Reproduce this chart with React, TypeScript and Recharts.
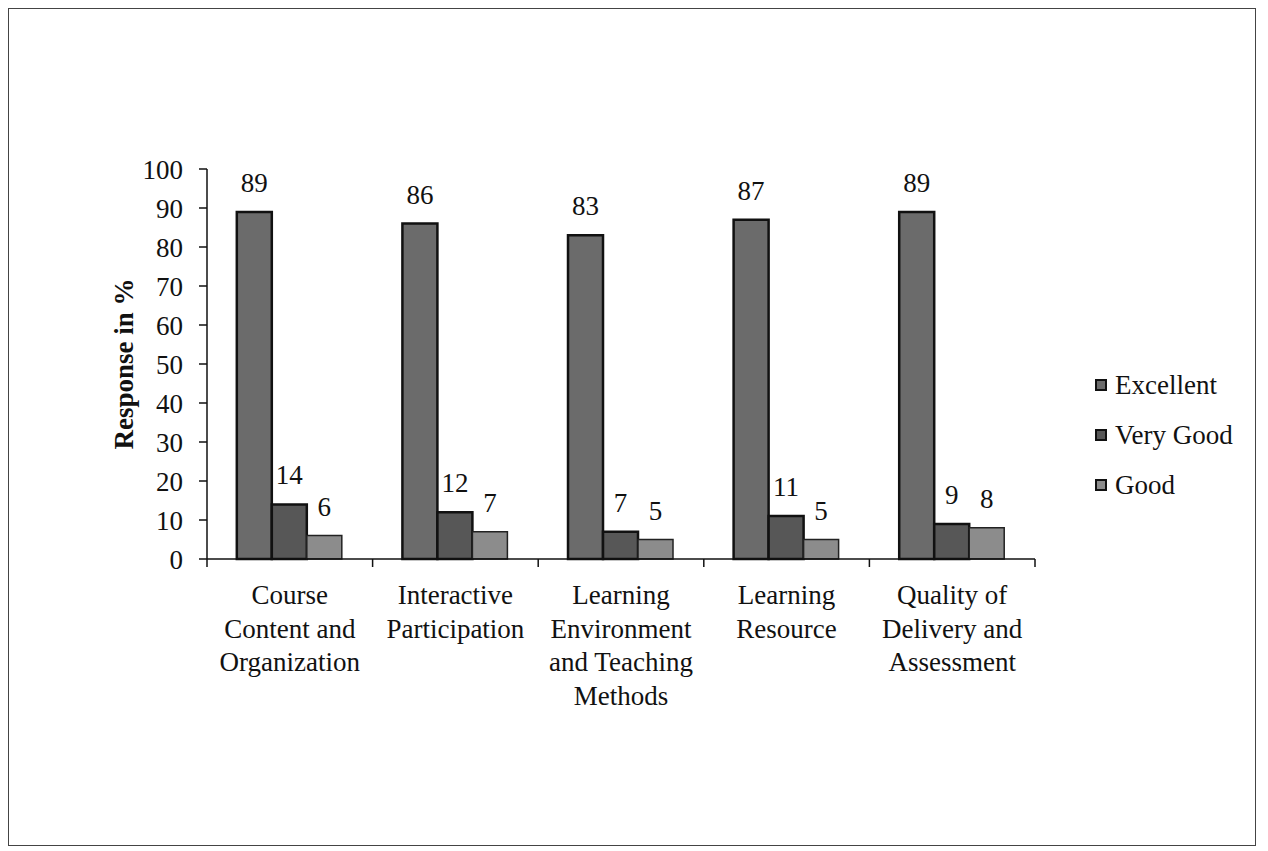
import React from 'react';
import { BarChart, Bar, XAxis, YAxis, Legend, LabelList } from 'recharts';

// survey response percentages per category
const categories = [
  'Course Content and Organization',
  'Interactive Participation',
  'Learning Environment and Teaching Methods',
  'Learning Resource',
  'Quality of Delivery and Assessment',
];
const categoryLines = [
  ['Course', 'Content and', 'Organization'],
  ['Interactive', 'Participation'],
  ['Learning', 'Environment', 'and Teaching', 'Methods'],
  ['Learning', 'Resource'],
  ['Quality of', 'Delivery and', 'Assessment'],
];
const seriesNames = ['Excellent', 'Very Good', 'Good'];
const excellent = [89, 86, 83, 87, 89];
const veryGood = [14, 12, 7, 11, 9];
const good = [6, 7, 5, 5, 8];
const yTicks = [0, 10, 20, 30, 40, 50, 60, 70, 80, 90, 100];

const data = categories.map((name, i) => ({
  name,
  excellent: excellent[i],
  veryGood: veryGood[i],
  good: good[i],
}));

const FONT = '"Liberation Serif", "Times New Roman", serif';

const CategoryTick = (props: any) => {
  const { x, y, payload, index, visibleTicksCount } = props;
  const lines = categoryLines[index] || [payload.value];
  const off = payload.offset || 0;
  return (
    <g>
      <line x1={x - off} y1={y} x2={x - off} y2={y + 8} stroke="#111" strokeWidth={1.5} />
      {index === visibleTicksCount - 1 && (
        <line x1={x + off} y1={y} x2={x + off} y2={y + 8} stroke="#111" strokeWidth={1.5} />
      )}
      <text x={x} y={y} textAnchor="middle" fill="#111" fontSize={27} fontFamily={FONT}>
        {lines.map((l: string, i: number) => (
          <tspan key={i} x={x} dy={i === 0 ? 45 : 33.5}>
            {l}
          </tspan>
        ))}
      </text>
    </g>
  );
};

const LegendBox = (props: any) => {
  const payload = [...(props.payload || [])].sort(
    (a: any, b: any) => seriesNames.indexOf(a.value) - seriesNames.indexOf(b.value)
  );
  return (
    <div style={{ fontFamily: FONT, fontSize: 27, color: '#111' }}>
      {payload.map((p: any) => (
        <div key={p.value} style={{ height: 50, display: 'flex', alignItems: 'center' }}>
          <svg width={12} height={12} style={{ marginRight: 8 }}>
            <rect x={1} y={1} width={10} height={10} fill={p.color} stroke="#111" strokeWidth={2} />
          </svg>
          <span>{p.value}</span>
        </div>
      ))}
    </div>
  );
};

export default function App() {
  return (
    <div
      style={{
        position: 'relative',
        width: 1248,
        height: 838,
        border: '1.5px solid #444',
        boxSizing: 'border-box',
        background: '#fff',
      }}
    >
      <div style={{ position: 'absolute', left: 0, top: 0 }}>
        <BarChart
          width={1248}
          height={838}
          data={data}
          margin={{ top: 160, right: 222, bottom: 138, left: 98 }}
          barGap={0}
          barCategoryGap="18%"
        >
          <XAxis
            dataKey="name"
            height={150}
            interval={0}
            tickLine={false}
            tickSize={0}
            tickMargin={0}
            axisLine={{ stroke: '#111', strokeWidth: 1.5 }}
            tick={<CategoryTick />}
          />
          <YAxis
            width={100}
            domain={[0, 100]}
            ticks={yTicks}
            interval={0}
            tickSize={8}
            tickMargin={16}
            axisLine={{ stroke: '#111', strokeWidth: 1.5 }}
            tickLine={{ stroke: '#111', strokeWidth: 1.5 }}
            tick={{ fill: '#111', fontSize: 27, fontFamily: FONT }}
            label={{
              value: 'Response in %',
              angle: -90,
              position: 'insideLeft',
              offset: 16,
              style: { textAnchor: 'middle', fontSize: 27, fontWeight: 700, fontFamily: FONT, fill: '#111' },
            }}
          />
          <Legend
            layout="vertical"
            align="center"
            verticalAlign="middle"
            content={<LegendBox />}
            wrapperStyle={{ left: 1086, top: 351, width: 160, height: 150 }}
          />
          <Bar dataKey="excellent" name="Excellent" fill="#6b6b6b" stroke="#111" strokeWidth={2.5} isAnimationActive={false}>
            <LabelList dataKey="excellent" position="top" offset={20} fill="#111" fontSize={27} fontFamily={FONT} />
          </Bar>
          <Bar dataKey="veryGood" name="Very Good" fill="#575757" stroke="#111" strokeWidth={2.5} isAnimationActive={false}>
            <LabelList dataKey="veryGood" position="top" offset={20} fill="#111" fontSize={27} fontFamily={FONT} />
          </Bar>
          <Bar dataKey="good" name="Good" fill="#8c8c8c" stroke="#222" strokeWidth={1.5} isAnimationActive={false}>
            <LabelList dataKey="good" position="top" offset={20} fill="#111" fontSize={27} fontFamily={FONT} />
          </Bar>
        </BarChart>
      </div>
    </div>
  );
}
